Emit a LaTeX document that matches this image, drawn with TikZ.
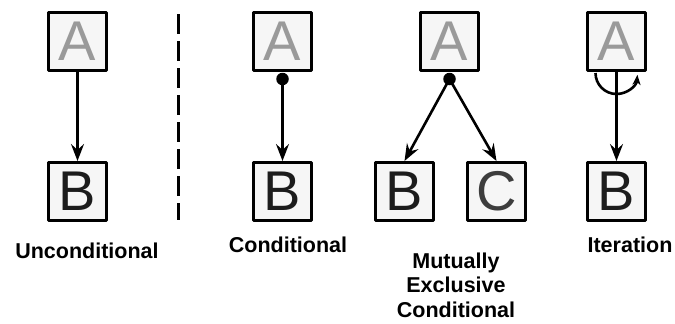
\documentclass[tikz,border=0pt]{standalone}
\usepackage{fontspec}
\setmainfont{Liberation Sans}
\usetikzlibrary{arrows.meta}
\definecolor{mauA}{HTML}{9A9A9A}
\definecolor{mauB}{HTML}{1C1C1C}
\definecolor{mauC}{HTML}{3D3D3D}
\definecolor{nen}{HTML}{F6F6F6}
\begin{document}
\begin{tikzpicture}[x=1pt, y=-1pt, line join=round, >={Stealth[length=17pt,width=13pt,inset=6pt]},
	box/.style={draw, line width=2.6pt, fill=nen, minimum size=58.4pt, inner sep=0pt, font=\fontsize{56}{56}\selectfont},
	dot/.style={circle, fill, inner sep=0pt, minimum size=12.5pt},
	link/.style={->, line width=2.6pt},
	lab/.style={font=\bfseries\fontsize{21.5}{24.5}\selectfont, align=center, inner sep=0pt}]
				\useasboundingbox (0,0) rectangle (675,324);
				% the boxes
				\foreach \ten/\chu/\x/\y in {uA/A/77.5/41.5, uB/B/77.5/191.5, cA/A/282.5/41.5, cB/B/282.5/191.5,
					mA/A/449.5/41.5, mB/B/404.5/191.5, mC/C/496.5/191.5, iA/A/616.5/41.5, iB/B/616.5/191.5}
					\node[box, text=mau\chu] (\ten) at (\x,\y) {\chu};
				% divider
				\path (178,14) coordinate (T) (178,220) coordinate (U);
				\draw[line width=3pt, dash pattern=on 20pt off 7pt] (T)--(U);
				% unconditional
				\draw[link] (uA.south)--(uB.north);
				% conditional
				\node[dot] (cD) at (282.5,79) {};
				\draw[link] (cD)--(cB.north);
				% mutually exclusive
				\node[dot] (mD) at (449.5,79) {};
				\draw[link] (mD.center)--(mB.north);
				\draw[link] (mD.center)--(mC.north);
				% iteration
				\draw[link] (iA.south)--(iB.north);
				\path (595.5,73) coordinate (L) (637.5,74) coordinate (R);
				\draw[line width=2.6pt, -{Stealth[length=10pt,width=8pt,inset=3pt]}] (L) arc[start angle=180, end angle=5, radius=21];
				% captions
				\node[lab, anchor=base] (uT) at (87,258) {Unconditional};
				\node[lab, anchor=base] (cT) at (288,252) {Conditional};
				\node[lab, anchor=north] (mT) at (456,252.5) {Mutually\\Exclusive\\Conditional};
				\node[lab, anchor=base] (iT) at (630,252) {Iteration};
	\end{tikzpicture}
\end{document}
